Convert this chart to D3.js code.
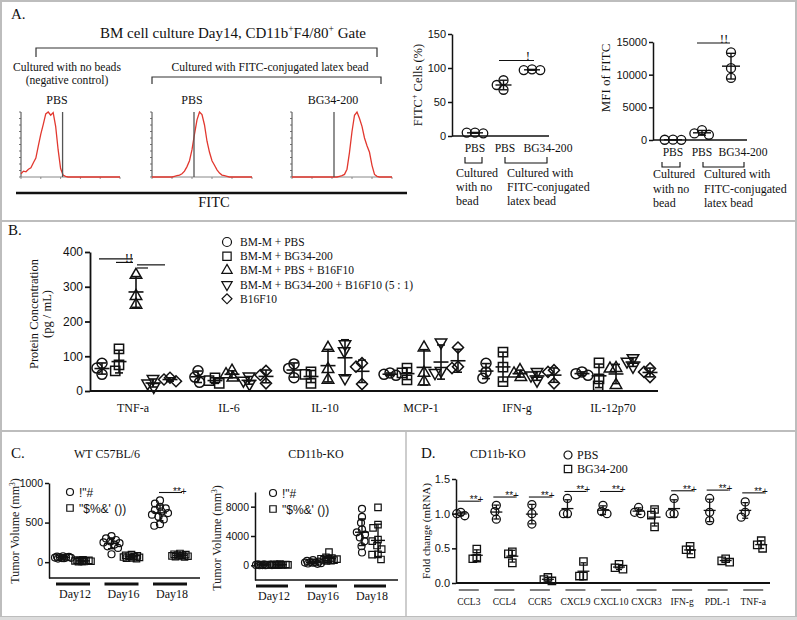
<!DOCTYPE html>
<html><head><meta charset="utf-8">
<script src="https://cdn.jsdelivr.net/npm/d3@7"></script>
<style>body{margin:0;background:#fff;}svg{display:block;}</style>
</head><body>
<script>
// ================= DATA =================
// Panel A – flow cytometry histograms (FITC channel 0..100 step 2.5, % of mode)
const histChannels = d3.range(0, 100.01, 2.5);
const histNoBeadPBS = [5,9,8,12,14,22,29,48,66,81,97,100,95,99,78,42,13,3,1,0,0,0,0,0,0,0,0,0,0,0,0,0,0,0,0,0,0,0,0,0,0];
const histBeadPBS   = [0,0,0,0,0,0,0,0,0,1,2,3,5,9,16,25,42,66,88,100,96,80,55,38,25,18,11,6,3,2,1,0,0,0,0,0,0,0,0,0,0];
const histBeadBG    = [0,0,0,0,0,0,0,0,0,0,0,0,0,0,0,0,0,0,0,1,2,4,12,38,70,95,100,90,78,60,48,38,18,4,1,0,0,0,0,0,0];
const gateChannel = 42;
const histTitles = ["PBS","PBS","BG34-200"];

// Panel A – summary plots
const aGroups = ["No bead PBS","Bead PBS","Bead BG34-200"];
const aLabels = ["PBS","PBS","BG34-200"];
const fitcPositive = [[5,4,5],[82,68,75],[98,97,97]];
const fitcMFI = [[40,30,50],[1500,800,1000],[13400,11000,9500]];
const fitcTicks = [0,50,100,150];
const mfiTicks = [0,5000,10000,15000];

// Panel B – cytokines
const cytokines = ["TNF-a","IL-6","IL-10","MCP-1","IFN-g","IL-12p70"];
const bGroups = ["BM-M + PBS","BM-M + BG34-200","BM-M + PBS + B16F10","BM-M + BG34-200 + B16F10 (5 : 1)","B16F10"];
const bmPBS      = [[80,66,48],[58,40,25],[78,65,38],[52,48,45],[80,55,37],[55,50,45]];
const bmBG       = [[121,75,58],[38,30,22],[55,48,22],[66,52,32],[112,69,27],[81,35,15]];
const bmPBSB16   = [[334,273,248],[58,48,38],[124,63,32],[125,52,27],[60,50,40],[66,64,17]];
const bmBGB16    = [[35,22,12],[42,30,20],[135,115,37],[140,58,52],[55,45,30],[95,85,70]];
const b16f10     = [[38,33,28],[58,46,22],[80,70,20],[125,70,66],[60,55,22],[65,55,40]];
const bTicks = [0,100,200,300,400];
const bSig = [[0,2,380],[1,2,370],[2,4,363],[2,3,354]];

// Panel C – tumour volume
const days = ["Day12","Day16","Day18"];
const cLegend = ['!"#', '"$%&\' ())'];
const wtPBS = [[75,70,66,62,60,58,55,52,50,45],[330,300,280,262,250,240,222,200,180,100],[780,740,700,680,660,640,620,600,575,540,480,460]];
const wtBG  = [[30,26,22,20,18,15,12,10,8,5],[95,85,80,75,70,65,60,55,50,45],[110,100,95,90,85,80,78,75,70,65]];
const koPBS = [[150,120,100,80,60,50,40,30,20,10],[700,600,500,450,400,380,350,300,250,200],[7700,6600,5800,4900,4500,4200,3800,3300,2600,1750]];
const koBG  = [[180,150,120,100,80,70,60,50,40,30],[1800,1100,1000,900,850,800,750,700,650,600],[7900,5550,5100,3500,3300,2700,2200,1500,1450,800]];
const wtTicks = [0,500,1000];
const koTicks = [0,4000,8000];

// Panel D – mRNA fold change
const genes = ["CCL3","CCL4","CCR5","CXCL9","CXCL10","CXCR3","IFN-g","PDL-1","TNF-a"];
const dPBS = [[1.0,0.97,1.02],[1.12,0.92,1.03],[1.13,0.85,1.0],[1.22,1.0,1.0],[1.12,1.0,1.03],[1.09,1.0,1.02],[1.22,1.0,1.0],[1.22,0.9,1.02],[1.17,0.95,1.02]];
const dBG  = [[0.49,0.35,0.36],[0.45,0.29,0.42],[0.08,0.05,0.03],[0.31,0.1,0.1],[0.27,0.22,0.2],[1.06,0.98,0.81],[0.53,0.48,0.42],[0.35,0.3,0.32],[0.61,0.55,0.5]];
const dSig = [1.18,1.24,1.24,1.32,1.32,null,1.33,1.34,1.3];
const dTicks = [0,0.5,1.0,1.5];

// ================= HELPERS =================
const W = 797, H = 620;
const SERIF = '"Liberation Serif","Times New Roman",serif';
const SANS = '"Liberation Sans",Arial,sans-serif';
const INK = "#111";
const svg = d3.select("body").append("svg").attr("width", W).attr("height", H);
svg.append("rect").attr("width", W).attr("height", H).attr("fill", "#fff");

function txt(g, x, y, s, o = {}) {
  const t = g.append("text").attr("font-family", o.font || SERIF).attr("font-size", o.size || 12)
    .attr("text-anchor", o.anchor || "start").attr("fill", o.fill || INK);
  if (o.rotate) t.attr("transform", `translate(${x},${y}) rotate(${o.rotate})`); else t.attr("x", x).attr("y", y);
  if (o.weight) t.attr("font-weight", o.weight);
  if (s !== null) t.text(s);
  return t;
}
function ln(g, x1, y1, x2, y2, stroke = INK, w = 1.2) {
  return g.append("line").attr("x1", x1).attr("y1", y1).attr("x2", x2).attr("y2", y2)
    .attr("stroke", stroke).attr("stroke-width", w);
}
function sup(t, base, s, after, shift = 5, fs = 8) {
  t.append("tspan").text(base);
  t.append("tspan").attr("dy", -shift).attr("font-size", fs).text(s);
  t.append("tspan").attr("dy", shift).text(after);
}
function yAxis(g, y, x, ticks, o = {}) {
  const ax = d3.axisLeft(y).tickValues(ticks).tickSize(o.tick || 4).tickSizeOuter(0).tickPadding(2)
    .tickFormat(o.fmt || d3.format("d"));
  const a = g.append("g").attr("transform", `translate(${x},0)`).call(ax);
  a.select(".domain").attr("stroke", INK).attr("stroke-width", o.w || 1.5);
  a.selectAll(".tick line").attr("stroke", INK).attr("stroke-width", o.w || 1.5);
  a.selectAll(".tick text").attr("font-family", SANS).attr("font-size", o.size || 11).attr("fill", INK);
  return a;
}
function symbolPath(shape, d) {
  const r = d / 2;
  if (shape === "circle") return d3.symbol(d3.symbolCircle, Math.PI * r * r)();
  if (shape === "square") return d3.symbol(d3.symbolSquare, d * d * 0.85)();
  if (shape === "triangle" || shape === "triangleDown") { const s = d * 1.15; return d3.symbol(d3.symbolTriangle, s * s * Math.sqrt(3) / 4)(); }
  if (shape === "diamond") { const s = d * 0.78; return d3.symbol(d3.symbolSquare, s * s)(); }
}
const rot = s => s === "triangleDown" ? 180 : s === "diamond" ? 45 : 0;
function marker(g, x, y, shape, d, sw = 1.3) {
  return g.append("path").attr("d", symbolPath(shape, d))
    .attr("transform", `translate(${x},${y}) rotate(${rot(shape)})`)
    .attr("fill", "none").attr("stroke", INK).attr("stroke-width", sw);
}
// compact scatter layout: beeswarm limited to +-maxS px, overlapping when crowded
function swarm(pts, D, maxS) {
  const placed = [];
  const grid = d3.range(-maxS, maxS + 0.01, 0.5);
  for (const p of pts) {
    const cands = [0];
    for (const q of placed) {
      const dy = Math.abs(p.py - q.py);
      if (dy < D) { const dx = Math.sqrt(D * D - dy * dy); cands.push(q.dx + dx, q.dx - dx); }
    }
    const ok = cands.filter(c => Math.abs(c) <= maxS + 0.01)
      .sort((a, b) => Math.abs(a) - Math.abs(b) || a - b)
      .find(c => placed.every(q => Math.hypot(q.dx - c, q.py - p.py) >= D - 0.01));
    if (ok !== undefined) p.dx = ok;
    else {
      let best = 0, bestD = -1;
      for (const c of grid) {
        const md = d3.min(placed, q => Math.hypot(q.dx - c, q.py - p.py));
        if (md > bestD + 0.05 || (Math.abs(md - bestD) <= 0.05 && Math.abs(c) < Math.abs(best))) { bestD = md; best = c; }
      }
      p.dx = best;
    }
    placed.push(p);
  }
  return placed;
}
function dotGroup(g, cx, vals, y, o) {
  const D = o.d * (o.pack ?? 0.85);
  const pts = vals.map(v => ({ v, py: y(v) })).sort((a, b) => a.py - b.py);
  const placed = swarm(pts, D, o.maxS ?? 8);
  const gg = g.append("g");
  gg.selectAll("path").data(placed).join("path")
    .attr("d", symbolPath(o.shape, o.d))
    .attr("transform", p => `translate(${cx + p.dx},${p.py}) rotate(${rot(o.shape)})`)
    .attr("fill", "none").attr("stroke", INK).attr("stroke-width", o.sw || 1.3);
  if (o.err !== false) {
    const m = d3.mean(vals), sd = d3.deviation(vals) || 0;
    const ew = o.ew || 1.5, mw = o.meanW || 14, cw = o.capW || 7;
    ln(gg, cx, y(m - sd), cx, y(m + sd), INK, ew);
    ln(gg, cx - cw / 2, y(m - sd), cx + cw / 2, y(m - sd), INK, ew);
    ln(gg, cx - cw / 2, y(m + sd), cx + cw / 2, y(m + sd), INK, ew);
    ln(gg, cx - mw / 2, y(m), cx + mw / 2, y(m), INK, ew);
  }
}

// ================= FRAME =================
const frame = svg.append("g");
frame.append("rect").attr("x", 1).attr("y", 1).attr("width", 795).attr("height", 616)
  .attr("fill", "none").attr("stroke", "#bdbdbd").attr("stroke-width", 2);
frame.append("rect").attr("x", 0).attr("y", 617).attr("width", W).attr("height", 3).attr("fill", "#dcdcdc");
ln(frame, 1, 221, 796, 221, "#bdbdbd", 2);
ln(frame, 1, 431, 796, 431, "#bdbdbd", 2);
ln(frame, 406, 431, 406, 617, "#bdbdbd", 1.5);

// ================= PANEL A =================
const A = svg.append("g");
txt(A, 11, 19, "A.", { size: 15 });
{
  const t = txt(A, 233, 37.5, null, { size: 15, anchor: "middle" });
  t.append("tspan").text("BM cell culture Day14, CD11b");
  t.append("tspan").attr("dy", -6).attr("font-size", 9.5).text("+");
  t.append("tspan").attr("dy", 6).text("F4/80");
  t.append("tspan").attr("dy", -6).attr("font-size", 9.5).text("+");
  t.append("tspan").attr("dy", 6).text(" Gate");
}
A.append("path").attr("d", "M36,57V48H377V57").attr("fill", "none").attr("stroke", "#333").attr("stroke-width", 1.2);
A.append("path").attr("d", "M152,84V77H381V84").attr("fill", "none").attr("stroke", "#333").attr("stroke-width", 1.2);
txt(A, 67, 70.5, "Cultured with no beads", { size: 11.6, anchor: "middle" });
txt(A, 67, 83.5, "(negative control)", { size: 11.6, anchor: "middle" });
txt(A, 270, 70.5, "Cultured with FITC-conjugated latex bead", { size: 11.6, anchor: "middle" });

const histFrames = [[21, 120], [152, 252], [292, 392]];
const histTitleX = [57, 192, 333];
const histSets = [histNoBeadPBS, histBeadPBS, histBeadBG];
const histY = d3.scaleLinear([0, 100], [177, 112]);
histSets.forEach((h, i) => {
  const hx = d3.scaleLinear([0, 100], histFrames[i]);
  const g = A.append("g");
  txt(g, histTitleX[i], 104, histTitles[i], { size: 12, anchor: "middle" });
  ln(g, hx(0), 112, hx(0), 177, "#444", 1);
  ln(g, hx(0), 177, hx(100), 177, "#888", 1);
  d3.range(0, 101, 10).forEach(v => ln(g, hx(0) - 2, histY(v), hx(0), histY(v), "#555", 0.8));
  d3.range(0, 101, 20).forEach(v => ln(g, hx(v), 177, hx(v), 179, "#777", 0.8));
  g.append("path").datum(h)
    .attr("d", d3.line().x((d, j) => hx(histChannels[j])).y(d => histY(d)))
    .attr("fill", "none").attr("stroke", "#e2382f").attr("stroke-width", 1.3);
  ln(g, hx(gateChannel), 112, hx(gateChannel), 177, "#555", 1.3);
});
ln(A, 16, 193, 407, 193, INK, 2.5);
txt(A, 214, 207, "FITC", { size: 14.5, anchor: "middle" });

// --- A middle: FITC+ cells
{
  const g = A.append("g");
  const y = d3.scaleLinear([0, 150], [136, 34]);
  const x = d3.scalePoint(aGroups, [475, 532]);
  const lx = d3.scaleOrdinal(aGroups, [475, 505, 548]);
  yAxis(g, y, 452, fitcTicks, { size: 11 });
  ln(g, 452, 136, 549, 136, INK, 1.5);
  fitcPositive.forEach((v, i) => dotGroup(g, x(aGroups[i]), v, y, { shape: "circle", d: 9, pack: 0.92, maxS: 10, meanW: 16, capW: 8, ew: 1.4 }));
  ln(g, 499, y(111), 534, y(111), INK, 1.2);
  txt(g, 528, y(111) - 1, "!", { size: 13, anchor: "middle" });
  aGroups.forEach((k, i) => txt(g, lx(k), 152, aLabels[i], { size: 11.6, anchor: "middle" }));
  g.append("path").attr("d", "M465,157V163H482V157").attr("fill", "none").attr("stroke", INK).attr("stroke-width", 1.1);
  g.append("path").attr("d", "M505,157V163H547V157").attr("fill", "none").attr("stroke", INK).attr("stroke-width", 1.1);
  ["Cultured", "with no", "bead"].forEach((s, i) => txt(g, 456, 177 + i * 14, s, { size: 12 }));
  ["Cultured with", "FITC-conjugated", "latex bead"].forEach((s, i) => txt(g, 507, 177 + i * 14, s, { size: 12 }));
  const t = txt(g, 422, 85, null, { size: 12.5, anchor: "middle", rotate: -90 });
  sup(t, "FITC", "+", " Cells (%)", 5, 8);
}
// --- A right: MFI
{
  const g = A.append("g");
  const y = d3.scaleLinear([0, 15000], [140, 42]);
  const x = d3.scalePoint(aGroups, [673, 731]);
  const lx = d3.scaleOrdinal(aGroups, [673, 702, 743]);
  yAxis(g, y, 653, mfiTicks, { size: 11 });
  ln(g, 653, 140, 747, 140, INK, 1.5);
  fitcMFI.forEach((v, i) => dotGroup(g, x(aGroups[i]), v, y, { shape: "circle", d: 9, pack: 0.92, maxS: 10, meanW: 18, capW: 8, ew: 1.4 }));
  ln(g, 697, y(14850), 730, y(14850), INK, 1.2);
  txt(g, 724, y(14850), "!!", { size: 13, anchor: "middle" });
  aGroups.forEach((k, i) => txt(g, lx(k), 156, aLabels[i], { size: 11.6, anchor: "middle" }));
  g.append("path").attr("d", "M662,162V167H680V162").attr("fill", "none").attr("stroke", INK).attr("stroke-width", 1.1);
  g.append("path").attr("d", "M703,162V167H744V162").attr("fill", "none").attr("stroke", INK).attr("stroke-width", 1.1);
  ["Cultured", "with no", "bead"].forEach((s, i) => txt(g, 653, 178 + i * 14.5, s, { size: 12 }));
  ["Cultured with", "FITC-conjugated", "latex bead"].forEach((s, i) => txt(g, 704, 178 + i * 14.5, s, { size: 12 }));
  txt(g, 610, 78, "MFI of FITC", { size: 13, anchor: "middle", rotate: -90 });
}

// ================= PANEL B =================
{
  const g = svg.append("g");
  txt(g, 8, 235, "B.", { size: 15 });
  const y = d3.scaleLinear([0, 400], [391, 252]);
  const x = d3.scaleBand(cytokines, [88, 664]);
  const off = d3.scalePoint(d3.range(5), [-34, 34]);
  const shapes = ["circle", "square", "triangle", "triangleDown", "diamond"];
  const series = [bmPBS, bmBG, bmPBSB16, bmBGB16, b16f10];
  yAxis(g, y, 90, bTicks, { size: 12, tick: 5, w: 1.8 });
  ln(g, 90, 391, 658, 391, INK, 2);
  cytokines.forEach((c, ci) => {
    const cx = x(c) + x.bandwidth() / 2;
    txt(g, cx - 3, 412, c, { size: 12, anchor: "middle" });
    series.forEach((s, si) => dotGroup(g, cx + off(si), s[ci], y, { shape: shapes[si], d: 10, pack: 0.7, maxS: 6, sw: 1.5, meanW: 15, capW: 8, ew: 1.6 }));
  });
  const cx0 = x(cytokines[0]) + x.bandwidth() / 2;
  bSig.forEach(([a, b, v]) => {
    const x1 = b === 2 ? cx0 + off(a) - 3 : cx0 + off(2) + 1;
    const x2 = b === 2 ? cx0 + off(2) - 3 : cx0 + off(b) - 5;
    ln(g, x1, y(v), x2, y(v), INK, 1.2);
  });
  txt(g, cx0 + off(2) - 7, y(372), "!!", { size: 13, anchor: "middle" });
  bGroups.forEach((s, i) => {
    const yy = 242 + i * 14.2;
    marker(g, 227, yy, shapes[i], 9, 1.2);
    txt(g, 240, yy + 4, s, { size: 11.5 });
  });
  txt(g, 38, 314, "Protein Concentration", { size: 12.5, anchor: "middle", rotate: -90 });
  txt(g, 51, 314, "(pg / mL)", { size: 12.5, anchor: "middle", rotate: -90 });
}

// ================= PANEL C =================
function tumourPlot(cfg) {
  const g = svg.append("g");
  const y = d3.scaleLinear(cfg.domain, cfg.yrange);
  const x = d3.scalePoint(days, cfg.xrange);
  yAxis(g, y, cfg.ax, cfg.ticks, { size: 10.5, tick: 4, w: 1.5 });
  ln(g, cfg.ax, cfg.yrange[0], cfg.axEnd, cfg.yrange[0], INK, 1.5);
  days.forEach((d, i) => {
    const cx = x(d);
    ln(g, cx - cfg.barW / 2, cfg.barY, cx + cfg.barW / 2, cfg.barY, INK, 3);
    txt(g, cx + 2, cfg.barY + 14, d, { size: 12, anchor: "middle" });
    dotGroup(g, cx - cfg.dx, cfg.pbs[i], y, { shape: "circle", d: 7, pack: 0.85, maxS: 8, sw: 1.2, meanW: 14, capW: 7, ew: 1.4 });
    dotGroup(g, cx + cfg.dx, cfg.bg[i], y, { shape: "square", d: 7, pack: 0.85, maxS: 8, sw: 1.2, meanW: 14, capW: 7, ew: 1.4 });
  });
  txt(g, cfg.titleX, 458, cfg.title, { size: 12, anchor: "middle" });
  cLegend.forEach((s, i) => {
    marker(g, cfg.legX, cfg.legY + i * 16, i ? "square" : "circle", 7, 1.2);
    txt(g, cfg.legX + 9, cfg.legY + i * 16 + 4.5, s, { size: 12, font: SANS });
  });
  const t = txt(g, cfg.labX, cfg.labY, null, { size: 12, anchor: "middle", rotate: -90, fill: "#222" });
  sup(t, "Tumor Volume (mm", "3", ")", 4, 7.5);
  return { g, x, y };
}
{
  const gC = svg.append("g");
  txt(gC, 11, 458, "C.", { size: 15 });
  const L = tumourPlot({ domain: [-200, 1000], yrange: [578, 483], xrange: [73, 170], ax: 49, axEnd: 200, ticks: wtTicks,
    pbs: wtPBS, bg: wtBG, dx: 10, barY: 584, barW: 34, title: "WT C57BL/6", titleX: 107, legX: 70, legY: 492, labX: 19, labY: 531 });
  ln(L.g, L.x("Day18") - 11, L.y(880), L.x("Day18") + 12, L.y(880), INK, 1.1);
  txt(L.g, L.x("Day18") + 3, L.y(880) + 2, "**+", { size: 10, font: SANS });
  tumourPlot({ domain: [-2000, 10000], yrange: [580, 492], xrange: [272, 370], ax: 255, axEnd: 398, ticks: koTicks,
    pbs: koPBS, bg: koBG, dx: 8, barY: 586, barW: 32, title: "CD11b-KO", titleX: 316, legX: 273, legY: 493, labX: 221, labY: 538 });
}

// ================= PANEL D =================
{
  const g = svg.append("g");
  txt(g, 421, 458, "D.", { size: 15 });
  txt(g, 470, 458, "CD11b-KO", { size: 12 });
  marker(g, 568, 455, "circle", 8, 1.2); txt(g, 577, 459, "PBS", { size: 12 });
  marker(g, 568, 469, "square", 8, 1.2); txt(g, 577, 473, "BG34-200", { size: 12 });
  const y = d3.scaleLinear([0, 1.5], [583, 479]);
  const x = d3.scalePoint(genes, [451, 771]).padding(0.5);
  yAxis(g, y, 456, dTicks, { size: 11, fmt: d3.format(".1f"), tick: 4, w: 1.5 });
  ln(g, 456, 583, 770, 583, INK, 2);
  genes.forEach((k, i) => {
    const cx = x(k);
    ln(g, cx - 10, 590, cx + 10, 590, "#555", 1.5);
    txt(g, cx, 605, k, { size: 9.5, anchor: "middle" });
    dotGroup(g, cx - 8, dPBS[i], y, { shape: "circle", d: 8, pack: 0.8, maxS: 4, sw: 1.3, meanW: 12, capW: 6, ew: 1.3 });
    dotGroup(g, cx + 8, dBG[i], y, { shape: "square", d: 8, pack: 0.8, maxS: 4, sw: 1.3, meanW: 12, capW: 6, ew: 1.3 });
    if (dSig[i] !== null) {
      ln(g, cx - 11, y(dSig[i]), cx + 11, y(dSig[i]), INK, 1.1);
      txt(g, cx + 1, y(dSig[i]) + 2, "**+", { size: 10, font: SANS });
    }
  });
  txt(g, 430, 531, "Fold change (mRNA)", { size: 11, anchor: "middle", rotate: -90 });
}
</script>
</body></html>
